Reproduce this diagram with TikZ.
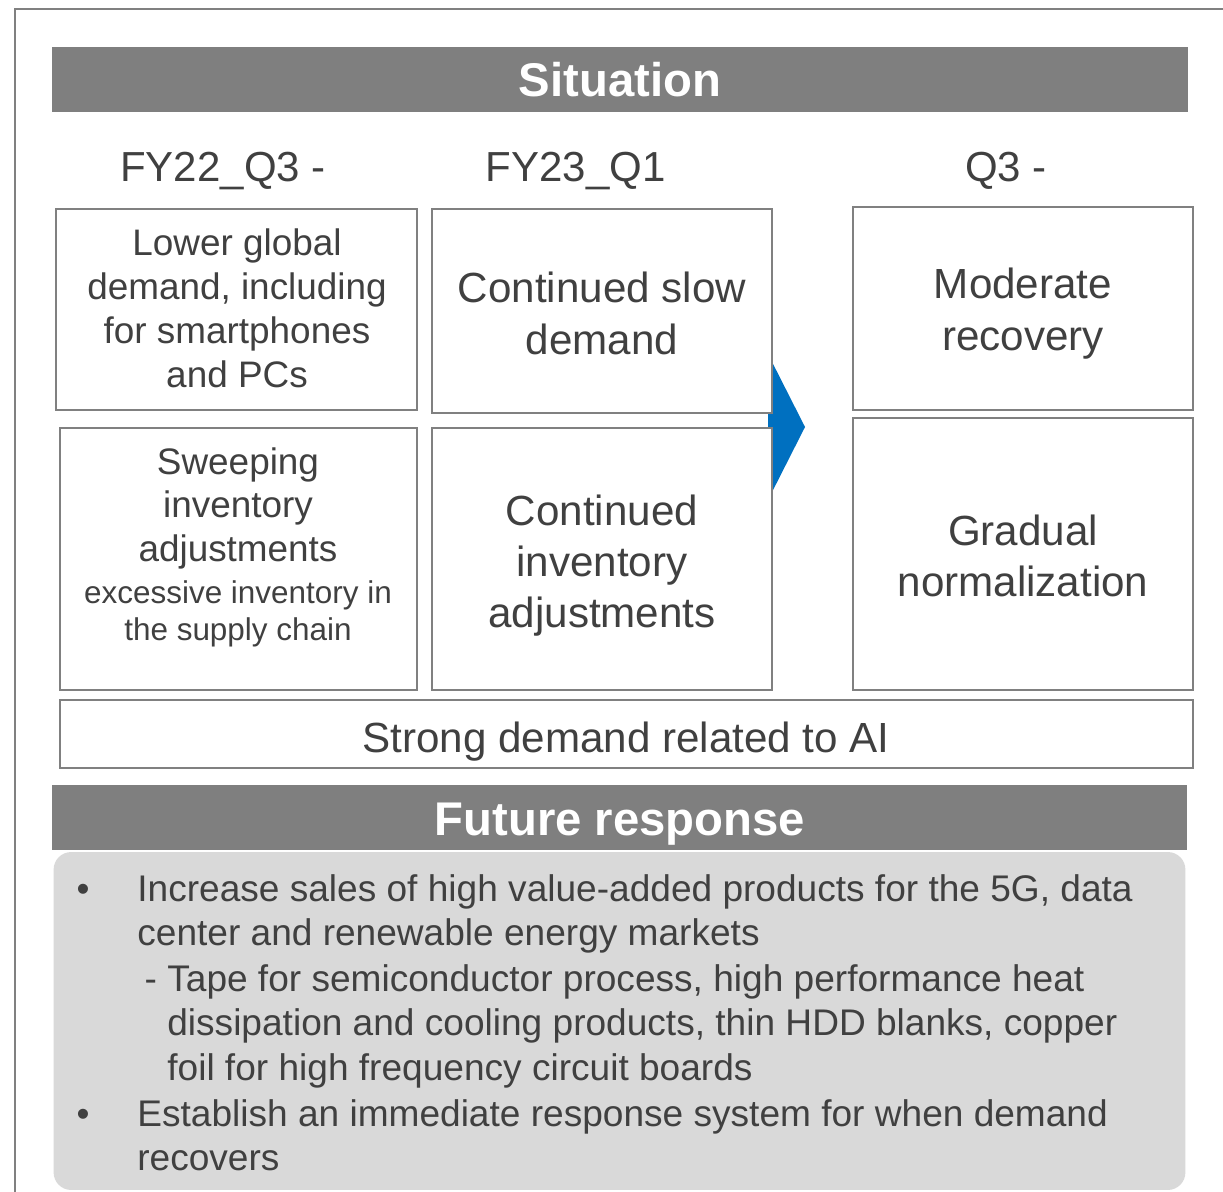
\documentclass[tikz,border=0pt]{standalone}
\usepackage{fontspec}
\setmainfont{Liberation Sans}
\definecolor{txtc}{HTML}{404040}
\definecolor{framec}{HTML}{808080}
\definecolor{hdrc}{HTML}{7F7F7F}
\definecolor{panelc}{HTML}{D9D9D9}
\definecolor{arrowblue}{HTML}{0070C0}
\newcommand{\tb}[2]{\parbox[t]{#1}{\centering #2}}
\newcommand{\lb}[2]{\parbox[t]{#1}{\raggedright #2}}
\begin{document}
\begin{tikzpicture}[x=0.02cm,y=-0.02cm,
  box/.style={draw=framec,line width=1.4pt,fill=white,inner sep=0pt},
  hdrbox/.style={fill=hdrc,inner sep=0pt,minimum width=22.72cm,minimum height=1.3cm},
  hdrtxt/.style={text=white,font=\bfseries\fontsize{26.9}{30}\selectfont,anchor=base,inner sep=0pt},
  period/.style={text=txtc,font=\fontsize{23.9}{28}\selectfont,anchor=base,inner sep=0pt},
  bigtxt/.style={text=txtc,font=\fontsize{24}{29.5}\selectfont,anchor=base,inner sep=0pt},
  midtxt/.style={text=txtc,font=\fontsize{21}{25}\selectfont,anchor=base,inner sep=0pt},
  smalltxt/.style={text=txtc,font=\fontsize{17.9}{21.5}\selectfont,anchor=base,inner sep=0pt},
  bultxt/.style={text=txtc,font=\fontsize{21.1}{25.5}\selectfont,anchor=base west,inner sep=0pt},
  bulmark/.style={text=txtc,font=\fontsize{21}{25.5}\selectfont,anchor=base,inner sep=0pt}
]
\useasboundingbox (0,0) rectangle (1223,1192);
\fill[white] (0,0) rectangle (1223,1192);
% outer frame
\draw[framec,line width=1.1pt] (15,1192) -- (15,9) -- (1223,9);

% header
\node[hdrbox] (hdr1) at (620,79.5) {};
\node[hdrtxt] (hdr1t) at (620,97) {Situation};

% periods
\node[period] (p1) at (223,182) {FY22\_Q3 -};
\node[period] (p2) at (575.5,182) {FY23\_Q1};
\node[period] (p3) at (1006,182) {Q3 -};

% arrow behind boxes
\fill[arrowblue] (768,354) -- (805,427) -- (768,500) -- cycle;

% boxes
\node[box,minimum width=7.22cm,minimum height=4.02cm] (A) at (236.5,309.5) {};
\node[box,minimum width=6.8cm,minimum height=4.08cm] (B) at (602,311) {};
\node[box,minimum width=6.8cm,minimum height=4.06cm] (C) at (1023,308.5) {};
\node[box,minimum width=7.14cm,minimum height=5.24cm] (D) at (238.5,559) {};
\node[box,minimum width=6.8cm,minimum height=5.24cm] (E) at (602,559) {};
\node[box,minimum width=6.8cm,minimum height=5.44cm] (F) at (1023,554) {};
\node[box,minimum width=22.66cm,minimum height=1.36cm] (G) at (626.5,734) {};

% box texts
\node[midtxt] (At) at (237,256) {\tb{8cm}{Lower global\\demand, including\\for smartphones\\and PCs}};
\node[bigtxt] (Bt) at (602,303) {\tb{8cm}{Continued slow\\demand}};
\node[bigtxt] (Ct) at (1023,299) {\tb{8cm}{Moderate\\recovery}};
\node[midtxt] (Dt1) at (238,474) {\tb{8cm}{Sweeping\\inventory\\adjustments}};
\node[smalltxt] (Dt2) at (238,603) {\tb{8cm}{excessive inventory in\\the supply chain}};
\node[bigtxt,font=\fontsize{24}{29.2}\selectfont] (Et) at (602,525) {\tb{8cm}{Continued\\inventory\\adjustments}};
\node[bigtxt] (Ft) at (1023,545) {\tb{8cm}{Gradual\\normalization}};
\node[bigtxt] (Gt) at (626,752) {Strong demand related to AI};

% future response header
\node[hdrbox] (hdr2) at (619.5,817.5) {};
\node[hdrtxt] (hdr2t) at (620,835) {Future response};

% panel
\node[fill=panelc,rounded corners=10pt,inner sep=0pt,minimum width=22.64cm,minimum height=6.76cm] (panel) at (619.5,1021) {};

\node[bulmark] (m1) at (83,901) {•};
\node[bultxt] (b1) at (137,901) {\lb{22cm}{Increase sales of high value-added products for the 5G, data\\center and renewable energy markets}};
\node[bultxt] (b2) at (167,991) {\lb{22cm}{\leavevmode\llap{- }Tape for semiconductor process, high performance heat\\dissipation and cooling products, thin HDD blanks, copper\\foil for high frequency circuit boards}};
\node[bulmark] (m2) at (83,1126) {•};
\node[bultxt] (b3) at (137,1126) {\lb{22cm}{Establish an immediate response system for when demand\\recovers}};
\end{tikzpicture}
\end{document}
